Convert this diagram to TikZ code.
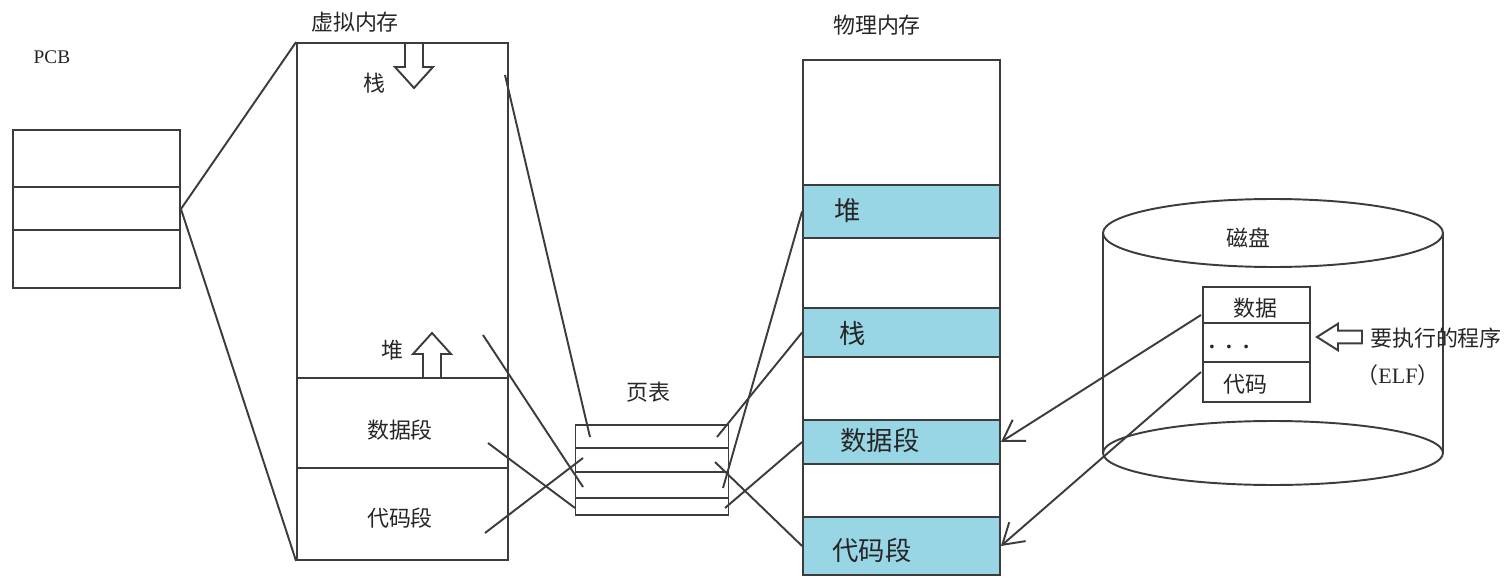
\documentclass[tikz,border=0pt]{standalone}
\usepackage{xcolor}
\usepackage{fontspec}
\setmainfont{Noto Sans CJK SC}
\newfontfamily\latinfont{Liberation Serif}
\usepackage{tikz}
\usetikzlibrary{arrows.meta}
\definecolor{segblue}{RGB}{152,214,230}
\definecolor{inkgray}{RGB}{60,60,60}

\tikzset{
  fatarrow/.pic={\draw[fill=white] (-9,0) -- (-9,24) -- (-19,24) -- (0,45) -- (19,24) -- (9,24) -- (9,0) -- cycle;}
}

\begin{document}
\begin{tikzpicture}[x=0.02cm, y=-0.02cm, line width=1.1pt, draw=inkgray,
    every node/.style={font=\fontsize{12.5}{14}\selectfont, inner sep=0pt, text=black!85},
    box/.style={draw=inkgray, rectangle},
    band/.style={draw=inkgray, fill=segblue, rectangle, minimum width=3.94cm},
    big/.style={font=\fontsize{15}{17}\selectfont},
    latin/.style={font=\latinfont\fontsize{11}{13}\selectfont}]
    \useasboundingbox (0,0) rectangle (1512,588);

    % PCB
    \node[latin] (pcblabel) at (52,57) {PCB};
    \node[box, minimum width=3.34cm, minimum height=3.16cm] (pcb) at (96.5,209) {};
    \draw (13,187) -- (180,187);
    \draw (13,230) -- (180,230);

    % Virtual memory
    \node (vmlabel) at (355,22) {虚拟内存};
    \node[box, minimum width=4.22cm, minimum height=10.34cm] (vm) at (402.5,301.5) {};
    \draw (297,378) -- (508,378);
    \draw (297,468) -- (508,468);
    \node (vstacklabel) at (374,83) {栈};
    \pic at (414,43) {fatarrow};
    \node (vheaplabel) at (392,350) {堆};
    \pic[rotate=180] at (432,378) {fatarrow};
    \node (vdatalabel) at (400,430) {数据段};
    \node (vcodelabel) at (400,518) {代码段};

    % Page table
    \node (ptlabel) at (648,392) {页表};
    \node[box, minimum width=3.06cm, minimum height=1.8cm] (pt) at (652,470) {};
    \draw (576,448) -- (729,448);
    \draw (576,472) -- (729,472);
    \draw (576,498) -- (729,498);

    % Physical memory
    \node (pmlabel) at (877,25) {物理内存};
    \node[box, minimum width=3.94cm, minimum height=10.3cm] (pm) at (901.5,317.5) {};
    \node[band, minimum height=1.06cm] (heapband) at (901.5,211.5) {};
    \node[band, minimum height=0.98cm] (stackband) at (901.5,332.5) {};
    \node[band, minimum height=0.88cm] (databand) at (901.5,442) {};
    \node[band, minimum height=1.16cm] (codeband) at (901.5,546) {};
    \node[big] (pheaplabel) at (848,211) {堆};
    \node[big] (pstacklabel) at (853,333) {栈};
    \node[big] (pdatalabel) at (880,440) {数据段};
    \node[big] (pcodelabel) at (872,550) {代码段};

    % Disk
    \draw (1103,233) -- (1103,453);
    \draw (1443,233) -- (1443,453);
    \draw[fill=white] (1273,453) ellipse [x radius=3.4cm, y radius=0.64cm];
    \draw[fill=white] (1273,233) ellipse [x radius=3.4cm, y radius=0.68cm];
    \node (disklabel) at (1248,238) {磁盘};
    \node[box, fill=white, minimum width=2.14cm, minimum height=2.3cm] (elf) at (1256.5,344.5) {};
    \draw (1203,323) -- (1310,323);
    \draw (1203,362) -- (1310,362);
    \node (elfdata) at (1255,308) {数据};
    \node[latin, font=\latinfont\bfseries\fontsize{13}{15}\selectfont] (elfdots) at (1229,347) {.\hspace{0.5em}.\hspace{0.5em}.};
    \node (elfcode) at (1245,384) {代码};
    \pic[rotate=-90, xscale=0.7] at (1362,337) {fatarrow};
    \node (proglabel) at (1436,338) {要执行的程序};
    \node (elftag) at (1398,375) {（{\latinfont ELF}）};

    % Coordinates for the mapping lines
    \coordinate (vstack) at (505,75);
    \coordinate (vheap) at (483,335);
    \coordinate (vdata) at (488,443);
    \coordinate (vcode) at (485,533);
    \coordinate (ptin1) at (590,437);
    \coordinate (ptin2) at (583,487);
    \coordinate (ptin3) at (575,508);
    \coordinate (ptin4) at (583,458);
    \coordinate (ptout1) at (717,437);
    \coordinate (ptout2) at (715,462);
    \coordinate (ptout3) at (723,488);
    \coordinate (ptout4) at (725,508);
    \coordinate (elfdataout) at (1201,315);
    \coordinate (elfcodeout) at (1201,372);

    % Edges
    \draw (pcb.east) -- (vm.north west);
    \draw (pcb.east) -- (vm.south west);
    \draw (vstack) -- (ptin1);
    \draw (vheap) -- (ptin2);
    \draw (vdata) -- (ptin3);
    \draw (vcode) -- (ptin4);
    \draw (ptout1) -- (stackband.west);
    \draw (ptout2) -- (codeband.west);
    \draw (ptout3) -- (heapband.west);
    \draw (ptout4) -- (databand.west);
    \draw[-{Straight Barb[length=4mm, width=5mm]}] (elfdataout) -- (databand.east);
    \draw[-{Straight Barb[length=4mm, width=5mm]}] (elfcodeout) -- (codeband.east);
\end{tikzpicture}
\end{document}
